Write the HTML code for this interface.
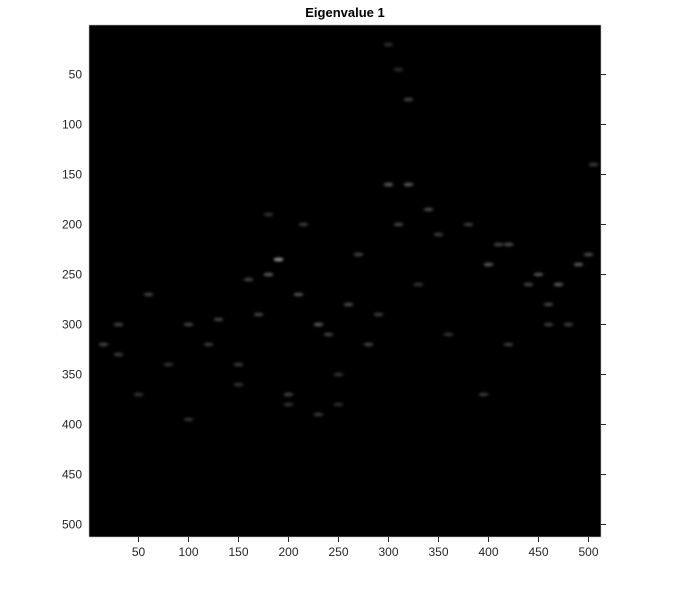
<!DOCTYPE html>
<html><head><meta charset="utf-8"><style>
body{margin:0;background:#fff;width:692px;height:596px;overflow:hidden}
svg{display:block}
text{font-family:"Liberation Sans",sans-serif;font-size:12px;fill:#262626}
</style></head><body>
<svg id="chart" width="692" height="596" viewBox="0 0 692 596">
<defs><filter id="blur" x="-50%" y="-50%" width="200%" height="200%"><feGaussianBlur stdDeviation="1.2"/></filter></defs>
<text x="345" y="17" text-anchor="middle" style="font-weight:bold;font-size:13px;fill:#000">Eigenvalue 1</text>
<rect x="89" y="25" width="512" height="512" fill="#000"/>
<g id="blobs" filter="url(#blur)"></g>
<rect x="89" y="25" width="512" height="512" fill="none" stroke="#bbb" stroke-width="0.6"/>
<g id="axes"></g>
</svg>
<script>
const xTicks=[50,100,150,200,250,300,350,400,450,500];
const yTicks=[50,100,150,200,250,300,350,400,450,500];
// bright feature spots: column, row, intensity (0-1)
const spotX=[190,180,210,230,260,300,320,340,310,400,420,450,470,490,500,30,15,60,100,130,150,160,240,280,290,350,380,410,440,460,480,200,230,250,170,120,80,320,360,395,505,300,310,270,180,215,330,420,460,30,50,100,150,200,250];
const spotY=[235,250,270,300,280,160,160,185,200,240,220,250,260,240,230,300,320,270,300,295,340,255,310,320,290,210,200,220,260,280,300,370,390,350,290,320,340,75,310,370,140,20,45,230,190,200,260,320,300,330,370,395,360,380,380];
const spotV=[1,0.6,0.55,0.6,0.5,0.6,0.6,0.5,0.45,0.6,0.5,0.55,0.6,0.6,0.5,0.45,0.45,0.45,0.45,0.45,0.4,0.45,0.45,0.45,0.4,0.4,0.4,0.45,0.45,0.45,0.4,0.45,0.4,0.35,0.45,0.4,0.35,0.45,0.35,0.4,0.4,0.3,0.3,0.45,0.35,0.4,0.35,0.4,0.4,0.4,0.35,0.35,0.35,0.35,0.3];
const x0=89,y0=25;
function sx(v){return x0+v-0.5;}
function sy(v){return y0+v-0.5;}
const NS="http://www.w3.org/2000/svg";
const blobs=document.getElementById('blobs');
for(let i=0;i<spotX.length;i++){
 const c=document.createElementNS(NS,'ellipse');
 
 
 c.setAttribute('cx',sx(spotX[i]));c.setAttribute('cy',sy(spotY[i]));
 c.setAttribute('rx',5);c.setAttribute('ry',2);
 const g=Math.round(spotV[i]*220);
 c.setAttribute('fill',`rgb(${g},${g},${g})`);
 c.setAttribute('opacity',0.6);
 blobs.appendChild(c);
}
const axes=document.getElementById('axes');
xTicks.forEach(t=>{
 const l=document.createElementNS(NS,'line');
 
 
 l.setAttribute('x1',sx(t));l.setAttribute('x2',sx(t));l.setAttribute('y1',537);l.setAttribute('y2',542);
 l.setAttribute('stroke','#262626');axes.appendChild(l);
 const tx=document.createElementNS(NS,'text');
 
 
 tx.setAttribute('x',sx(t));tx.setAttribute('y',556);tx.setAttribute('text-anchor','middle');
 tx.textContent=t;axes.appendChild(tx);
});
yTicks.forEach(t=>{
 const l=document.createElementNS(NS,'line');
 
 
 l.setAttribute('x1',601);l.setAttribute('x2',606);l.setAttribute('y1',sy(t));l.setAttribute('y2',sy(t));
 l.setAttribute('stroke','#262626');axes.appendChild(l);
 const tx=document.createElementNS(NS,'text');
 
 
 tx.setAttribute('x',82);tx.setAttribute('y',sy(t)+4);tx.setAttribute('text-anchor','end');
 tx.textContent=t;axes.appendChild(tx);
});
</script>
</body></html>
